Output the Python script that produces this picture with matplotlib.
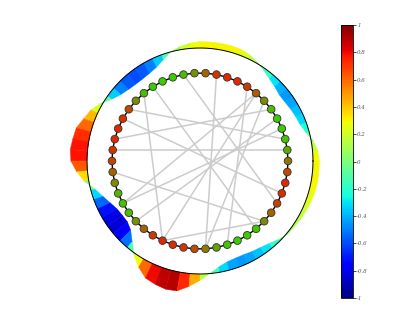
import numpy as np
import matplotlib
matplotlib.use("Agg")
import matplotlib.pyplot as plt
from matplotlib.collections import PolyCollection
from matplotlib.colors import LinearSegmentedColormap, Normalize

# wave on the outer circle, one value every 5 degrees (counter-clockwise from the right)
wave_deg = np.arange(0, 360, 5)
wave_val = [0.3, 0.25, 0.1, -0.15, -0.3, -0.35, -0.4, -0.45, -0.45, -0.35, -0.25, -0.1,
            0.05, 0.2, 0.28, 0.3, 0.3, 0.3, 0.3, 0.25, 0.15, 0.0, -0.25, -0.45,
            -0.55, -0.6, -0.6, -0.55, -0.45, -0.25, 0.1, 0.35, 0.5, 0.7, 0.75, 0.8,
            0.75, 0.5, 0.2, -0.2, -0.45, -0.65, -0.8, -0.85, -0.85, -0.7, -0.35, 0.1,
            0.45, 0.75, 0.85, 0.92, 0.88, 0.6, 0.3, 0.0, -0.25, -0.4, -0.45, -0.45,
            -0.4, -0.35, -0.25, -0.1, 0.05, 0.1, 0.15, 0.2, 0.25, 0.28, 0.3, 0.3]

# node values (0 = green, 1 = red), node 0 on the right, counter-clockwise
node_val = [0.55, 0.2, 0.05, 0.0, 0.0, 0.1, 0.4, 0.7, 0.9, 1.0,
            1.0, 0.95, 0.65, 0.35, 0.1, 0.0, 0.0, 0.0, 0.1, 0.4,
            0.8, 0.95, 1.0, 1.0, 0.95, 0.85, 0.65, 0.4, 0.15, 0.05,
            0.1, 0.35, 0.65, 0.9, 1.0, 1.0, 0.95, 0.8, 0.5, 0.25,
            0.05, 0.0, 0.0, 0.05, 0.4, 0.65, 0.85, 1.0, 1.0, 0.8]

# extra links across the ring
chords = [(1, 24), (18, 34), (5, 23), (2, 20), (8, 40), (7, 29), (34, 44),
          (17, 43), (26, 44), (3, 29), (6, 38), (14, 46), (4, 31), (7, 34),
          (21, 47), (11, 38)]

cbar_ticks = [-1, -0.8, -0.6, -0.4, -0.2, 0, 0.2, 0.4, 0.6, 0.8, 1]

R = 1.0
r_nodes = 88 / 113
amp = 0.19

fig = plt.figure(figsize=(4.15, 3.35), dpi=100)
ax = fig.add_axes([0, 0, 1, 1])
ax.set_xlim(-200 / 113, 215 / 113)
ax.set_ylim(-174 / 113, 161 / 113)
ax.axis("off")

norm = Normalize(-1, 1)
th = np.deg2rad(np.append(wave_deg, 360))
v = np.append(wave_val, wave_val[0])
polys, cols = [], []
for i in range(len(th) - 1):
    a0, a1 = th[i], th[i + 1]
    r0, r1 = R * (1 + amp * v[i]), R * (1 + amp * v[i + 1])
    polys.append([(R * np.cos(a0), R * np.sin(a0)), (R * np.cos(a1), R * np.sin(a1)),
                  (r1 * np.cos(a1), r1 * np.sin(a1)), (r0 * np.cos(a0), r0 * np.sin(a0))])
    cols.append((v[i] + v[i + 1]) / 2)
pc = PolyCollection(polys, array=np.array(cols), cmap="jet", norm=norm,
                    edgecolors="face", linewidths=0.3, zorder=1)
ax.add_collection(pc)

t = np.linspace(0, 2 * np.pi, 400)
ax.plot(R * np.cos(t), R * np.sin(t), color="black", lw=0.7, zorder=2)

n = len(node_val)
ang = 2 * np.pi * np.arange(n) / n
nx, ny = r_nodes * np.cos(ang), r_nodes * np.sin(ang)

for a, b in chords:
    ax.plot([nx[a], nx[b]], [ny[a], ny[b]], color="#cccccc", lw=1.1, zorder=3)

ax.plot(np.append(nx, nx[0]), np.append(ny, ny[0]), color="black", lw=1.0, zorder=4)

node_cmap = LinearSegmentedColormap.from_list("gr", ["#3ccc00", "#dd2a00"])
ax.scatter(nx, ny, s=30, c=node_val, cmap=node_cmap, vmin=0, vmax=1,
           edgecolors="#333333", linewidths=0.6, zorder=5)

cax = fig.add_axes([341 / 415, 37 / 335, 12 / 415, 273 / 335])
cb = fig.colorbar(plt.cm.ScalarMappable(norm=norm, cmap="jet"), cax=cax, ticks=cbar_ticks)
cb.ax.set_yticklabels(["%g" % x for x in cbar_ticks], fontsize=4, style="italic",
                      family="serif", color="#555555")
cb.ax.tick_params(length=2, width=0.5, pad=1)
cb.outline.set_linewidth(0.6)

fig.savefig("out.png", dpi=100)
